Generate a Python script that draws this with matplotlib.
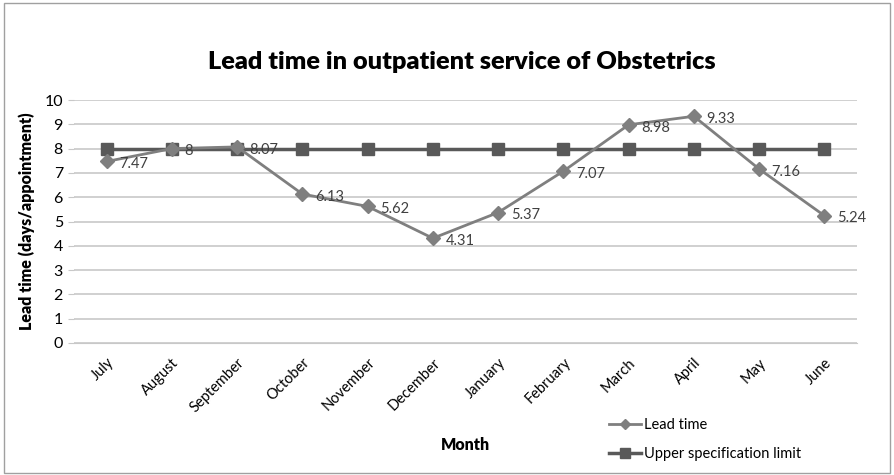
import numpy as np
import matplotlib; matplotlib.use("Agg")
import matplotlib.pyplot as plt
from matplotlib.patches import Rectangle

months = ["July", "August", "September", "October", "November", "December",
          "January", "February", "March", "April", "May", "June"]
lead_time = [7.47, 8, 8.07, 6.13, 5.62, 4.31, 5.37, 7.07, 8.98, 9.33, 7.16, 5.24]
usl = [8] * 12
lead_labels = ["7.47", "8", "8.07", "6.13", "5.62", "4.31", "5.37", "7.07",
               "8.98", "9.33", "7.16", "5.24"]

plt.rcParams["font.family"] = ["Lato", "DejaVu Sans"]

fig = plt.figure(figsize=(8.94, 4.75), dpi=100)
ax = fig.add_axes([74/894, 1 - 343/475, (857-74)/894, (343-100)/475])

x = np.arange(len(months))
ax.plot(x, usl, color="#595959", lw=2.5, marker="s", ms=9, zorder=3,
        label="Upper specification limit")
ax.plot(x, lead_time, color="#7f7f7f", lw=2, marker="D", ms=7, zorder=4,
        label="Lead time")
for xi, yi, t in zip(x, lead_time, lead_labels):
    ax.annotate(t, (xi, yi), xytext=(9, -2), textcoords="offset points",
                ha="left", va="center", fontsize=10.5, color="#404040", zorder=5)

ax.set_xlim(-0.5, 11.5)
ax.set_ylim(0, 10)
ax.set_yticks(range(0, 11))
ax.yaxis.grid(True, color="#c8c8c8", lw=1.2)
ax.set_axisbelow(True)
for s in ["top", "right", "left"]:
    ax.spines[s].set_visible(False)
ax.spines["bottom"].set_color("#c8c8c8")
ax.tick_params(axis="y", length=4, color="#c8c8c8", labelsize=11.5, pad=4)
ax.tick_params(axis="x", length=0, labelsize=10.5, pad=9)
ax.set_xticks(x)
ax.set_xticklabels(months, rotation=45, ha="right", rotation_mode="anchor")

ax.set_ylabel("Lead time (days/appointment)", fontsize=11.5, fontweight="heavy", labelpad=7)
ax.set_xlabel("Month", fontsize=11.5, fontweight="heavy", labelpad=16)
fig.text(462/894, 1 - 62/475, "Lead time in outpatient service of Obstetrics",
         ha="center", va="center", fontsize=18.2, fontweight="heavy")

h, l = ax.get_legend_handles_labels()
fig.legend(h[::-1], l[::-1], loc="upper left", bbox_to_anchor=(596/894, 1 - 405/475),
           frameon=False, fontsize=10.5, handlelength=2.2, handletextpad=0.2,
           labelspacing=1.0, markerscale=0.8)

fig.add_artist(Rectangle((4/894, 2/475), 886/894, 470/475, transform=fig.transFigure,
                         fill=False, edgecolor="#a0a0a0", lw=1))

fig.savefig("out.png", dpi=100)
